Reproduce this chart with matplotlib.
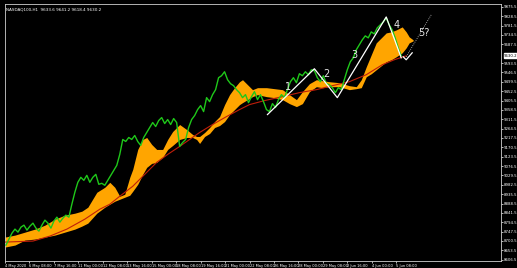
import numpy as np
import matplotlib
matplotlib.use("Agg")
import matplotlib.pyplot as plt

# ---- data (H1 bars, price) ----
price_close = [8680, 8710, 8740, 8760, 8745, 8770, 8780, 8755, 8775, 8790, 8765, 8750, 8780, 8805, 8790,
               8765, 8800, 8820, 8795, 8815, 8830, 8820, 8885, 8945, 8995, 9020, 9005, 9030, 8995, 9020,
               9035, 8985, 8990, 8980, 9005, 9030, 9055, 9080, 9135, 9210, 9200, 9220, 9210, 9230, 9200,
               9180, 9220, 9245, 9270, 9295, 9275, 9305, 9320, 9290, 9310, 9285, 9315, 9295, 9175, 9195,
               9210, 9270, 9310, 9330, 9360, 9380, 9350, 9420, 9400, 9435, 9460, 9520, 9530, 9550, 9510,
               9490, 9480, 9460, 9445, 9420, 9435, 9395, 9425, 9450, 9410, 9435, 9400, 9360, 9350, 9390,
               9370, 9410, 9435, 9420, 9460, 9500, 9520, 9495, 9540, 9530, 9550, 9535, 9560, 9555, 9520,
               9500, 9530, 9490, 9485, 9470, 9445, 9470, 9460, 9510, 9560, 9600, 9620, 9660, 9685, 9710,
               9730, 9720, 9750, 9740, 9770, 9785, 9800, 9820, 9785, 9760, 9720, 9670, 9630]
price_bar_step = 6

cloud_bar = [0, 20, 40, 60, 80, 100, 120, 140, 154, 166, 184, 200, 210, 220, 230, 240, 250, 256, 266, 276,
             284, 294, 304, 316, 326, 336, 350, 364, 376, 384, 390, 400, 410, 420, 430, 440, 450, 460, 470,
             476, 486, 496, 506, 524, 540, 556, 570, 584, 596, 610, 624, 636, 650, 670, 690, 704, 714, 724,
             734, 744, 754, 764, 774, 784, 796, 804, 810, 818]
cloud_top = [8720, 8730, 8745, 8760, 8780, 8810, 8830, 8840, 8850, 8870, 8945, 8970, 8995, 8970, 8925, 8935,
             9020, 9060, 9160, 9210, 9220, 9185, 9160, 9160, 9210, 9250, 9285, 9260, 9235, 9225, 9225, 9245,
             9270, 9300, 9325, 9385, 9435, 9470, 9500, 9510, 9485, 9460, 9470, 9470, 9465, 9460, 9435, 9410,
             9450, 9490, 9510, 9505, 9500, 9495, 9480, 9475, 9510, 9575, 9635, 9695, 9720, 9745, 9750, 9760,
             9775, 9750, 9725, 9710]
cloud_bottom = [8670, 8680, 8705, 8710, 8720, 8730, 8745, 8760, 8775, 8790, 8840, 8870, 8885, 8900, 8910, 8920,
                8930, 8950, 8985, 9035, 9070, 9090, 9095, 9120, 9160, 9180, 9210, 9220, 9220, 9210, 9190, 9225,
                9240, 9270, 9280, 9300, 9335, 9360, 9385, 9395, 9410, 9425, 9435, 9425, 9420, 9410, 9390, 9375,
                9390, 9450, 9475, 9470, 9475, 9475, 9460, 9465, 9470, 9525, 9540, 9560, 9580, 9600, 9610, 9625,
                9645, 9670, 9695, 9705]

ma_bar = [0, 56, 90, 124, 160, 190, 210, 230, 256, 280, 304, 326, 350, 370, 390, 416, 444, 470, 490, 520,
          556, 590, 624, 656, 690, 724, 756, 780, 804]
ma_price = [8695, 8700, 8725, 8760, 8810, 8860, 8885, 8925, 8975, 9035, 9095, 9135, 9175, 9210, 9245, 9285,
            9325, 9360, 9385, 9405, 9425, 9445, 9460, 9480, 9500, 9535, 9585, 9610, 9630]

wave_bar = [526, 620, 666, 764, 794]
wave_price = [9335, 9565, 9420, 9825, 9620]
wave_labels = ["1", "2", "3", "4", "5?"]
label_bar = [568, 644, 700, 784, 840]
label_price = [9475, 9540, 9635, 9785, 9745]

check_bar = [798, 804, 816]
check_price = [9625, 9610, 9645]
proj_bar = [804, 854]
proj_price = [9625, 9835]

ytick_vals = [8606.5 + 47.0 * k for k in range(28)]
current_price = 9630.2

xtick_bar = [0, 49, 98, 147, 196, 245, 294, 343, 392, 441, 490, 539, 588, 637, 686, 735, 784]
xtick_labels = ["4 May 2020", "6 May 08:00", "7 May 16:00", "11 May 00:00", "12 May 08:00", "13 May 16:00",
                "15 May 00:00", "18 May 08:00", "19 May 16:00", "21 May 00:00", "22 May 08:00",
                "26 May 16:00", "28 May 00:00", "29 May 08:00", "2 Jun 16:00", "4 Jun 00:00", "5 Jun 08:00"]
title_text = "NASDAQ100,H1  9633.6 9641.2 9618.4 9630.2"

# ---- figure ----
W, H = 517, 268
fig = plt.figure(figsize=(W / 100, H / 100), dpi=100, facecolor="black")
ax = fig.add_axes([5 / W, 7 / H, 496 / W, 257 / H])
ax.set_facecolor("black")

ax.fill_between(cloud_bar, cloud_bottom, cloud_top, color="#ffa500", lw=0, zorder=2)
ax.plot(ma_bar, ma_price, color="#c01e0a", lw=0.8, zorder=3)
pb = np.arange(len(price_close)) * price_bar_step + 2
ax.plot(pb, price_close, color="#1fc81a", lw=1.0, zorder=4)
ax.plot(wave_bar, wave_price, color="white", lw=0.9, zorder=5)
ax.plot(check_bar, check_price, color="white", lw=0.9, zorder=5)
ax.plot(proj_bar, proj_price, color="#cccccc", lw=0.6, ls=(0, (1, 1.5)), zorder=5)
for t, b, p in zip(wave_labels, label_bar, label_price):
    ax.text(b, p, t, color="#e6e6e6", fontsize=7, ha="center", va="center", zorder=6)

ax.set_xlim(0, 994)
ax.set_ylim(8600, 9890)

shown = [v for v in ytick_vals if abs(v - current_price) > 25]
ax.yaxis.tick_right()
ax.set_yticks(shown)
ax.set_yticklabels(["%.1f" % v for v in shown])
ax.tick_params(axis="y", colors="white", labelsize=2.8, length=1.5, width=0.5, pad=0.8)
ax.set_xticks(xtick_bar)
ax.set_xticklabels(xtick_labels, ha="left")
ax.tick_params(axis="x", colors="white", labelsize=2.6, length=1.5, width=0.5, pad=0.5)
for s in ax.spines.values():
    s.set_color("#d0d0d0")
    s.set_linewidth(0.6)

ax.text(0.003, 0.985, title_text, transform=ax.transAxes, color="white", fontsize=3.0,
        ha="left", va="top")
ax.text(1.006, current_price, "%.1f" % current_price, transform=ax.get_yaxis_transform(),
        color="black", fontsize=2.8, ha="left", va="center",
        bbox=dict(boxstyle="square,pad=0.1", fc="white", ec="white"))

fig.savefig("out.png", dpi=100, facecolor="black")
